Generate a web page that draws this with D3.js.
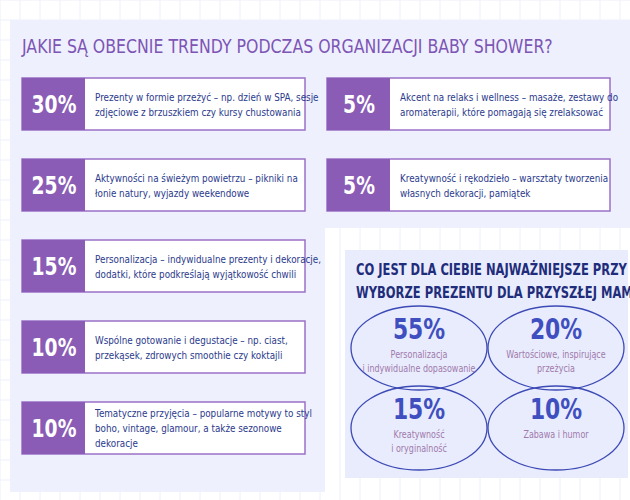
<!DOCTYPE html><html><head><meta charset="utf-8"><script src="https://cdn.jsdelivr.net/npm/d3@7"></script>
<style>body{margin:0;background:#fff}text{font-family:"DejaVu Sans"}</style></head><body>
<script>
const trendPct=["30%","25%","15%","10%","10%","5%","5%"];
const trendText=[
["Prezenty w formie przeżyć – np. dzień w SPA, sesje","zdjęciowe z brzuszkiem czy kursy chustowania"],
["Aktywności na świeżym powietrzu – pikniki na","łonie natury, wyjazdy  weekendowe"],
["Personalizacja – indywidualne prezenty i dekoracje,","dodatki, które podkreślają wyjątkowość chwili"],
["Wspólne gotowanie i degustacje – np. ciast,","przekąsek, zdrowych smoothie czy koktajli"],
["Tematyczne przyjęcia – popularne motywy to styl","boho, vintage,  glamour, a także sezonowe","dekoracje"],
["Akcent na relaks i wellness – masaże, zestawy do","aromaterapii, które pomagają się zrelaksować"],
["Kreatywność i rękodzieło – warsztaty tworzenia","własnych dekoracji, pamiątek"]];
const trendCol=[0,0,0,0,0,1,1];
const trendRow=[0,1,2,3,4,0,1];
const giftPct=["55%","20%","15%","10%"];
const giftText=[["Personalizacja","i indywidualne dopasowanie"],["Wartościowe, inspirujące","przeżycia"],["Kreatywność","i oryginalność"],["Zabawa i humor"]];
const W=630,H=500;
const svg=d3.select("body").append("svg").attr("width",W).attr("height",H);
function txt(x,y,s,sx,size,fill,anchor,weight){
 return svg.append("text").attr("transform",`translate(${x},${y}) scale(${sx},1)`).attr("text-anchor",anchor||"start").attr("fill",fill).attr("font-size",size).attr("font-weight",weight||"normal").text(s);
}
const g=svg.append("g");
for(let x=0;x<W;x+=20)g.append("line").attr("x1",x).attr("x2",x).attr("y1",0).attr("y2",H).attr("stroke","#eef0fa");
for(let y=0;y<H;y+=20)g.append("line").attr("y1",y).attr("y2",y).attr("x1",0).attr("x2",W).attr("stroke","#eef0fa");
svg.append("rect").attr("x",10).attr("y",20).attr("width",620).attr("height",472).attr("fill","#eef0fd");
svg.append("rect").attr("x",325).attr("y",228).attr("width",305).attr("height",272).attr("fill","#fff");
for(let x=340;x<W;x+=20)svg.append("line").attr("x1",x).attr("x2",x).attr("y1",228).attr("y2",H).attr("stroke","#eef0fa");
svg.append("rect").attr("x",345).attr("y",250).attr("width",283).attr("height",228).attr("fill","#e9ecfd");
txt(22,53,"JAKIE SĄ OBECNIE TRENDY PODCZAS ORGANIZACJI BABY SHOWER?",0.83,19,"#7d55b5");
const xs=d3.scaleOrdinal().domain([0,1]).range([22,327]);
const ys=d3.scaleLinear().domain([0,1]).range([78,159]);
trendPct.forEach((p,i)=>{
 const x=xs(trendCol[i]),y=ys(trendRow[i]);
 svg.append("rect").attr("x",x).attr("y",y).attr("width",283).attr("height",52).attr("fill","#fff").attr("stroke","#9b70c8").attr("stroke-width",1.5);
 svg.append("rect").attr("x",x).attr("y",y).attr("width",63).attr("height",52).attr("fill","#8b5cb6");
 txt(x+32,y+35,p,0.78,24,"#fff","middle","bold");
 const t=trendText[i],lh=15,start=y+26-(t.length-1)*lh/2+4;
 t.forEach((l,j)=>txt(x+73,start+j*lh,l,0.8,11,"#2b3a8c"));
});
txt(356,275,"CO JEST DLA CIEBIE NAJWAŻNIEJSZE PRZY",0.72,16,"#1f2d7a","start","bold");
txt(356,298,"WYBORZE PREZENTU DLA PRZYSZŁEJ MAMY?",0.72,16,"#1f2d7a","start","bold");
const cx=d3.scaleOrdinal().domain([0,1]).range([419,556]);
const cy=d3.scaleOrdinal().domain([0,1]).range([348,428]);
giftPct.forEach((p,i)=>{
 const x=cx(i%2),y=cy(Math.floor(i/2));
 svg.append("ellipse").attr("cx",x).attr("cy",y).attr("rx",68).attr("ry",42).attr("fill","none").attr("stroke","#3c4ab5").attr("stroke-width",1.3);
 txt(x,y-9,p,0.78,28,"#3f4fc0","middle","bold");
 giftText[i].forEach((l,j)=>txt(x,y+10+j*14,l,0.8,10,"#a07aab","middle"));
});
</script></body></html>
